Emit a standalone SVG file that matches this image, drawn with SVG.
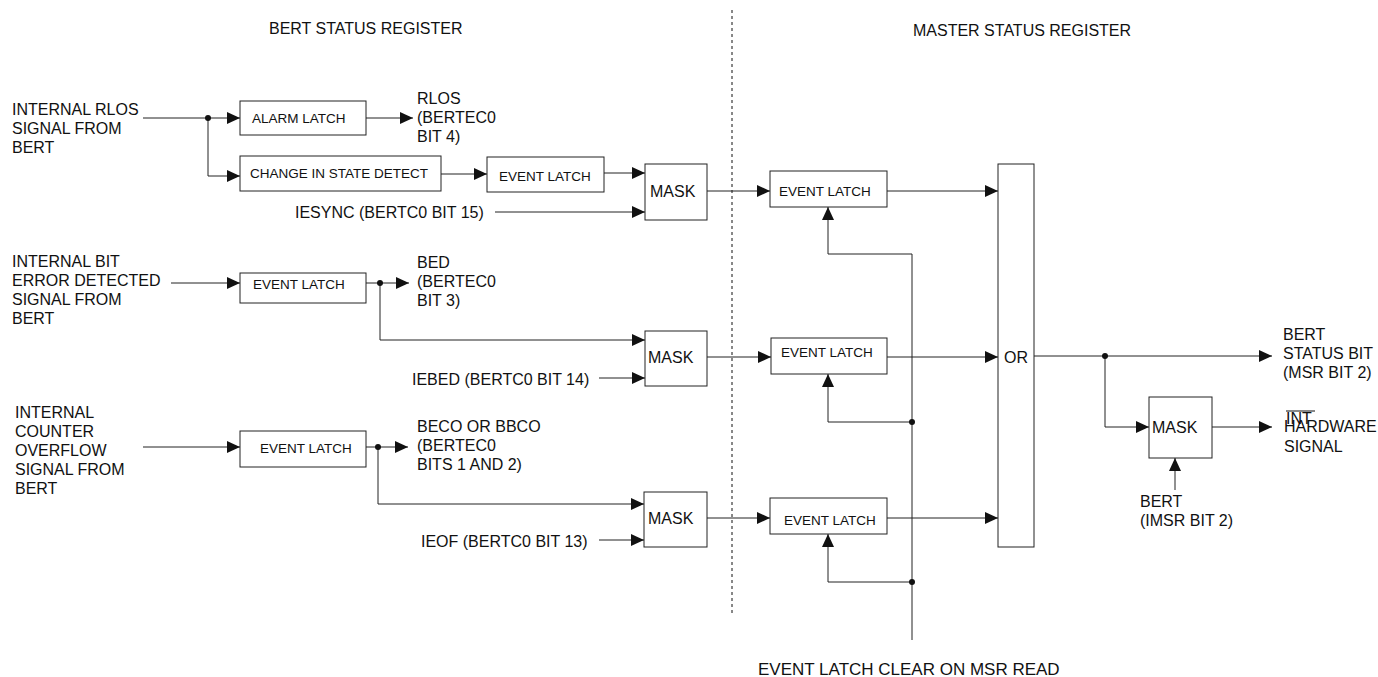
<svg xmlns="http://www.w3.org/2000/svg" width="1378" height="677" viewBox="0 0 1378 677">
<style>
text{font-family:"Liberation Sans",Arial,sans-serif;fill:#111;}
.t{font-size:16px;}
.b{font-size:13.5px;}
.box{fill:#fff;stroke:#222;stroke-width:1;}
.w{fill:none;stroke:#222;stroke-width:1;}
.a{fill:none;stroke:#222;stroke-width:1;marker-end:url(#ah);}
.dot{fill:#111;}
</style>
<defs>
<marker id="ah" markerUnits="userSpaceOnUse" markerWidth="13" markerHeight="12" refX="13" refY="6" orient="auto">
<path d="M0,0 L13,6 L0,12 z" fill="#111"/>
</marker>
</defs>
<rect width="1378" height="677" fill="#fff"/>

<g id="headings">
<text class="t" x="269" y="34">BERT STATUS REGISTER</text>
<text class="t" x="913" y="36">MASTER STATUS REGISTER</text>
<line x1="732" y1="10" x2="732" y2="615" stroke="#111" stroke-width="1" stroke-dasharray="3,3"/>
</g>

<g id="connectors">
<!-- row 1 -->
<path class="a" d="M143,118 H240"/>
<path class="a" d="M208,118 V176 H240"/>
<path class="a" d="M366,118 H413"/>
<path class="a" d="M441,174 H487"/>
<path class="a" d="M604,173 H645"/>
<path class="a" d="M495,212 H645"/>
<path class="a" d="M707,191 H770"/>
<path class="a" d="M887,191 H998"/>
<path class="a" d="M912,640 V254 H828 V207"/>
<!-- row 2 -->
<path class="a" d="M171,283 H240"/>
<path class="a" d="M366,283 H409"/>
<path class="a" d="M380,283 V340 H645"/>
<path class="a" d="M599,378 H645"/>
<path class="a" d="M707,357 H771"/>
<path class="a" d="M887,357 H998"/>
<path class="a" d="M912,422 H828 V374"/>
<!-- row 3 -->
<path class="a" d="M143,447 H240"/>
<path class="a" d="M366,447 H408"/>
<path class="a" d="M378,447 V504 H644"/>
<path class="a" d="M599,540 H644"/>
<path class="a" d="M707,518 H770"/>
<path class="a" d="M887,518 H998"/>
<path class="a" d="M912,582 H828 V534"/>
<!-- output side -->
<path class="a" d="M1034,356 H1272"/>
<path class="a" d="M1105,356 V427 H1149"/>
<path class="a" d="M1212,427 H1272"/>
<path class="a" d="M1175,490 V458"/>
<circle class="dot" cx="208" cy="118" r="3"/>
<circle class="dot" cx="380" cy="283" r="3"/>
<circle class="dot" cx="378" cy="447" r="3"/>
<circle class="dot" cx="912" cy="422" r="3"/>
<circle class="dot" cx="912" cy="582" r="3"/>
<circle class="dot" cx="1105" cy="356" r="3"/>
</g>

<g id="in-rlos">
<text class="t" x="12" y="115">INTERNAL RLOS</text>
<text class="t" x="12" y="134">SIGNAL FROM</text>
<text class="t" x="12" y="153">BERT</text>
</g>
<g id="alarm-latch">
<rect class="box" x="240" y="101" width="126" height="34"/>
<text class="b" x="252" y="123">ALARM LATCH</text>
</g>
<g id="out-rlos">
<text class="t" x="417" y="104">RLOS</text>
<text class="t" x="417" y="123">(BERTEC0</text>
<text class="t" x="417" y="142">BIT 4)</text>
</g>
<g id="change-detect">
<rect class="box" x="240" y="156" width="201" height="35"/>
<text class="b" x="250" y="178">CHANGE IN STATE DETECT</text>
</g>
<g id="event-latch-1">
<rect class="box" x="487" y="157" width="117" height="35"/>
<text class="b" x="499" y="181">EVENT LATCH</text>
</g>
<g id="iesync">
<text class="t" x="295" y="218">IESYNC (BERTC0 BIT 15)</text>
</g>
<g id="mask-1">
<rect class="box" x="645" y="164" width="62" height="56"/>
<text class="t" x="650" y="197">MASK</text>
</g>
<g id="master-latch-1">
<rect class="box" x="770" y="171" width="117" height="36"/>
<text class="b" x="779" y="196">EVENT LATCH</text>
</g>

<g id="in-bed">
<text class="t" x="12" y="267">INTERNAL BIT</text>
<text class="t" x="12" y="286">ERROR DETECTED</text>
<text class="t" x="12" y="305">SIGNAL FROM</text>
<text class="t" x="12" y="324">BERT</text>
</g>
<g id="event-latch-2">
<rect class="box" x="240" y="273" width="126" height="30"/>
<text class="b" x="253" y="289">EVENT LATCH</text>
</g>
<g id="out-bed">
<text class="t" x="417" y="268">BED</text>
<text class="t" x="417" y="287">(BERTEC0</text>
<text class="t" x="417" y="306">BIT 3)</text>
</g>
<g id="iebed">
<text class="t" x="412" y="385">IEBED (BERTC0 BIT 14)</text>
</g>
<g id="mask-2">
<rect class="box" x="645" y="331" width="62" height="55"/>
<text class="t" x="648" y="363">MASK</text>
</g>
<g id="master-latch-2">
<rect class="box" x="771" y="338" width="116" height="36"/>
<text class="b" x="781" y="357">EVENT LATCH</text>
</g>

<g id="in-ovf">
<text class="t" x="15" y="418">INTERNAL</text>
<text class="t" x="15" y="437">COUNTER</text>
<text class="t" x="15" y="456">OVERFLOW</text>
<text class="t" x="15" y="475">SIGNAL FROM</text>
<text class="t" x="15" y="494">BERT</text>
</g>
<g id="event-latch-3">
<rect class="box" x="240" y="431" width="126" height="36"/>
<text class="b" x="260" y="453">EVENT LATCH</text>
</g>
<g id="out-beco">
<text class="t" x="417" y="432">BECO OR BBCO</text>
<text class="t" x="417" y="451">(BERTEC0</text>
<text class="t" x="417" y="470">BITS 1 AND 2)</text>
</g>
<g id="ieof">
<text class="t" x="421" y="547">IEOF (BERTC0 BIT 13)</text>
</g>
<g id="mask-3">
<rect class="box" x="644" y="492" width="63" height="55"/>
<text class="t" x="648" y="524">MASK</text>
</g>
<g id="master-latch-3">
<rect class="box" x="770" y="498" width="117" height="36"/>
<text class="b" x="784" y="525">EVENT LATCH</text>
</g>

<g id="or-gate">
<rect class="box" x="998" y="164" width="36" height="383"/>
<text class="t" x="1004" y="363">OR</text>
</g>
<g id="clear-label">
<text x="758" y="675" font-size="17px">EVENT LATCH CLEAR ON MSR READ</text>
</g>
<g id="status-bit">
<text class="t" x="1283" y="340">BERT</text>
<text class="t" x="1283" y="359">STATUS BIT</text>
<text class="t" x="1283" y="378">(MSR BIT 2)</text>
</g>
<g id="mask-out">
<rect class="box" x="1149" y="397" width="63" height="61"/>
<text class="t" x="1152" y="433">MASK</text>
</g>
<g id="imsr">
<text class="t" x="1140" y="507">BERT</text>
<text class="t" x="1140" y="526">(IMSR BIT 2)</text>
</g>
<g id="int-signal">
<text class="t" x="1286" y="424">INT</text>
<line x1="1286" y1="411" x2="1315" y2="411" stroke="#111" stroke-width="1"/>
<text class="t" x="1284" y="432">HARDWARE</text>
<text class="t" x="1284" y="452">SIGNAL</text>
</g>
</svg>
